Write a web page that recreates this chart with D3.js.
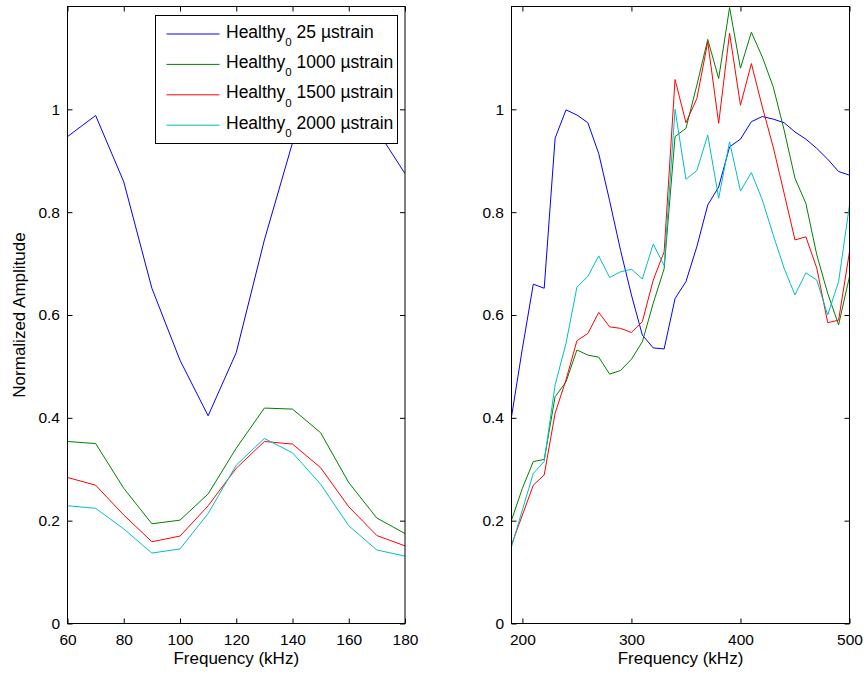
<!DOCTYPE html>
<html>
<head>
<meta charset="utf-8">
<script src="https://cdn.jsdelivr.net/npm/d3@7"></script>
<style>
  html, body { margin: 0; padding: 0; background: #fff; }
  svg { display: block; font-family: "Liberation Sans", Arial, Helvetica, sans-serif; }
</style>
</head>
<body>
<svg id="chart" width="867" height="674"></svg>
<script>
// ---------------- data ----------------
const leftFreq = [60, 70, 80, 90, 100, 110, 120, 130, 140, 150, 160, 170, 180];
const left25   = [0.947, 0.988, 0.859, 0.652, 0.512, 0.404, 0.527, 0.746, 0.935, 1.0, 1.01, 0.96, 0.875];
const left1000 = [0.354, 0.350, 0.263, 0.194, 0.201, 0.252, 0.341, 0.419, 0.417, 0.371, 0.274, 0.205, 0.175];
const left1500 = [0.284, 0.269, 0.211, 0.159, 0.170, 0.229, 0.302, 0.354, 0.349, 0.303, 0.227, 0.171, 0.151];
const left2000 = [0.229, 0.224, 0.184, 0.137, 0.145, 0.214, 0.308, 0.360, 0.332, 0.271, 0.190, 0.143, 0.131];

const rightFreq = [190, 200, 210, 220, 230, 240, 250, 260, 270, 280, 290, 300, 310, 320, 330, 340,
                   350, 360, 370, 380, 390, 400, 410, 420, 430, 440, 450, 460, 470, 480, 490, 500];
const right25   = [0.402, 0.535, 0.660, 0.652, 0.944, 0.999, 0.989, 0.974, 0.914, 0.822, 0.726, 0.639, 0.561, 0.536, 0.534, 0.632,
                   0.665, 0.733, 0.814, 0.849, 0.927, 0.942, 0.976, 0.986, 0.981, 0.974, 0.956, 0.942, 0.924, 0.903, 0.879, 0.872];
const right1000 = [0.201, 0.263, 0.315, 0.319, 0.441, 0.470, 0.532, 0.522, 0.518, 0.485, 0.492, 0.514, 0.548, 0.623, 0.690, 0.947,
                   0.963, 1.047, 1.136, 1.060, 1.198, 1.080, 1.150, 1.102, 1.044, 0.960, 0.866, 0.817, 0.717, 0.642, 0.581, 0.675];
const right1500 = [0.153, 0.211, 0.269, 0.289, 0.409, 0.474, 0.550, 0.564, 0.605, 0.577, 0.574, 0.566, 0.587, 0.668, 0.723, 1.058,
                   0.974, 1.021, 1.131, 0.973, 1.148, 1.008, 1.089, 1.005, 0.927, 0.837, 0.746, 0.752, 0.691, 0.585, 0.590, 0.723];
const right2000 = [0.149, 0.221, 0.292, 0.315, 0.464, 0.545, 0.654, 0.675, 0.715, 0.673, 0.684, 0.689, 0.670, 0.738, 0.696, 1.000,
                   0.864, 0.881, 0.950, 0.827, 0.937, 0.841, 0.877, 0.824, 0.756, 0.691, 0.639, 0.682, 0.668, 0.600, 0.665, 0.814];

const seriesNames  = ["25", "1000", "1500", "2000"];
const seriesColors = ["#0000ff", "#008000", "#ff0000", "#00bfbf"];
const leftXTicks  = [60, 80, 100, 120, 140, 160, 180];
const rightXTicks = [200, 300, 400, 500];
const yTicks = [0, 0.2, 0.4, 0.6, 0.8, 1];
const xLabel = "Frequency (kHz)";
const yLabel = "Normalized Amplitude";

// ---------------- drawing ----------------
const svg = d3.select("#chart");
const tickFont = 15.5, labelFont = 17;

function panel(opts) {
  const { x0, x1, y0, y1, xDomain, xTicks, freq, series, id, ylab } = opts;
  const x = d3.scaleLinear().domain(xDomain).range([x0, x1]);
  const y = d3.scaleLinear().domain([0, 1.2]).range([y1, y0]);
  const g = svg.append("g");

  g.append("clipPath").attr("id", id).append("rect")
    .attr("x", x0).attr("y", y0).attr("width", x1 - x0).attr("height", y1 - y0);

  const fmtY = d => d === 0 ? "0" : d === 1 ? "1" : d3.format(".1f")(d);

  const ax = [
    g.append("g").attr("transform", `translate(0,${y1})`)
      .call(d3.axisBottom(x).tickValues(xTicks).tickSize(-5).tickPadding(10.5).tickFormat(d3.format("d"))),
    g.append("g").attr("transform", `translate(0,${y0})`)
      .call(d3.axisTop(x).tickValues(xTicks).tickSize(-5).tickFormat("")),
    g.append("g").attr("transform", `translate(${x0},0)`)
      .call(d3.axisLeft(y).tickValues(yTicks).tickSize(-5).tickPadding(7.5).tickFormat(fmtY)),
    g.append("g").attr("transform", `translate(${x1},0)`)
      .call(d3.axisRight(y).tickValues(yTicks).tickSize(-5).tickFormat(""))
  ];
  ax.forEach(a => {
    a.select(".domain").remove();
    a.selectAll("line").attr("stroke", "#000").attr("stroke-width", 1);
    a.selectAll("text").attr("fill", "#000").style("font-size", tickFont + "px")
      .style("font-family", '"Liberation Sans", Arial, sans-serif');
  });

  const line = d3.line().x((d, i) => x(freq[i])).y(d => y(d));
  const lg = g.append("g").attr("clip-path", `url(#${id})`);
  series.forEach((s, i) => {
    lg.append("path").datum(s).attr("d", line)
      .attr("fill", "none").attr("stroke", seriesColors[i]).attr("stroke-width", 1);
  });

  g.append("rect").attr("x", x0).attr("y", y0).attr("width", x1 - x0).attr("height", y1 - y0)
    .attr("fill", "none").attr("stroke", "#000").attr("stroke-width", 1);

  g.append("text").attr("x", (x0 + x1) / 2).attr("y", 663.5).attr("text-anchor", "middle")
    .style("font-size", labelFont + "px").text(xLabel);

  if (ylab) {
    g.append("text").attr("transform", `translate(24.5,${(y0 + y1) / 2}) rotate(-90)`)
      .attr("text-anchor", "middle").style("font-size", labelFont + "px").text(yLabel);
  }
  return { x, y, g };
}

panel({ x0: 67.5, x1: 405, y0: 6.5, y1: 623.5, xDomain: [60, 180], xTicks: leftXTicks,
        freq: leftFreq, series: [left25, left1000, left1500, left2000], id: "clipL", ylab: true });
panel({ x0: 511.5, x1: 849.5, y0: 6.5, y1: 623.5, xDomain: [190, 500], xTicks: rightXTicks,
        freq: rightFreq, series: [right25, right1000, right1500, right2000], id: "clipR", ylab: false });

// legend
const leg = svg.append("g");
leg.append("rect").attr("x", 155.5).attr("y", 15.5).attr("width", 242).attr("height", 128)
  .attr("fill", "#fff").attr("stroke", "#000").attr("stroke-width", 1);
seriesNames.forEach((name, i) => {
  const cy = 34 + i * 30.4;
  leg.append("line").attr("x1", 166.5).attr("x2", 219.5).attr("y1", cy).attr("y2", cy)
    .attr("stroke", seriesColors[i]).attr("stroke-width", 1);
  const t = leg.append("text").attr("x", 226).attr("y", cy + 3.5).style("font-size", "17.5px").attr("fill", "#000");
  t.append("tspan").text("Healthy");
  t.append("tspan").attr("dy", 8.5).style("font-size", "11.5px").text("0");
  t.append("tspan").attr("dy", -8.5).text(" " + name + " \u00B5strain");
});
</script>
</body>
</html>
